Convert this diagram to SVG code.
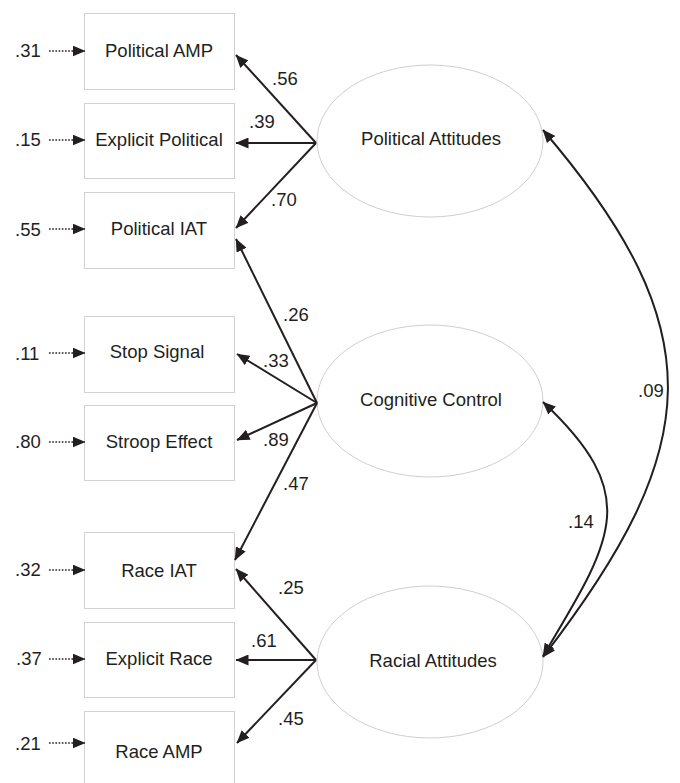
<svg xmlns="http://www.w3.org/2000/svg" width="680" height="783" viewBox="0 0 680 783">
<style>
text{font-family:"Liberation Sans",Arial,Helvetica,sans-serif;font-size:18.5px;fill:#231f20}
.box{fill:#fff;stroke:#d2d2d2;stroke-width:1}
.ell{fill:#fff;stroke:#cfcfcf;stroke-width:1}
.mid{text-anchor:middle}
.path{fill:none;stroke:#231f20;stroke-width:2;marker-end:url(#ah)}
.cov{fill:none;stroke:#231f20;stroke-width:2;marker-start:url(#ah);marker-end:url(#ah)}
.err{fill:none;stroke:#231f20;stroke-width:1.6;stroke-dasharray:1.6 1.6;marker-end:url(#ah)}
</style>
<defs>
<marker id="ah" markerUnits="userSpaceOnUse" markerWidth="13" markerHeight="11" viewBox="0 0 13 11" refX="12.5" refY="5.5" orient="auto-start-reverse">
<path d="M0,0 L13,5.5 L0,11 z" fill="#231f20"/>
</marker>
</defs>
<rect width="680" height="783" fill="#fff"/>

<g id="political-amp"><rect class="box" x="84.5" y="13.5" width="150" height="76"/><text class="mid" x="159" y="57">Political AMP</text><text x="15" y="57">.31</text></g>
<g id="explicit-political"><rect class="box" x="84.5" y="103.5" width="150" height="75"/><text class="mid" x="159" y="146">Explicit Political</text><text x="15" y="146">.15</text></g>
<g id="political-iat"><rect class="box" x="84.5" y="192.5" width="150" height="76"/><text class="mid" x="159" y="235">Political IAT</text><text x="15" y="236">.55</text></g>
<g id="stop-signal"><rect class="box" x="84.5" y="316.5" width="150" height="76"/><text class="mid" x="157" y="358">Stop Signal</text><text x="15" y="360">.11</text></g>
<g id="stroop-effect"><rect class="box" x="84.5" y="405.5" width="150" height="75"/><text class="mid" x="159" y="448">Stroop Effect</text><text x="15" y="448">.80</text></g>
<g id="race-iat"><rect class="box" x="84.5" y="532.5" width="150" height="76"/><text class="mid" x="159" y="577">Race IAT</text><text x="15" y="576">.32</text></g>
<g id="explicit-race"><rect class="box" x="84.5" y="622.5" width="150" height="75"/><text class="mid" x="159" y="665">Explicit Race</text><text x="16" y="665">.37</text></g>
<g id="race-amp"><rect class="box" x="84.5" y="711.5" width="150" height="76"/><text class="mid" x="159" y="758">Race AMP</text><text x="15" y="750">.21</text></g>

<g id="political-attitudes"><ellipse class="ell" cx="430" cy="141" rx="113" ry="76"/><text class="mid" x="431" y="145">Political Attitudes</text></g>
<g id="cognitive-control"><ellipse class="ell" cx="430" cy="401" rx="113" ry="76"/><text class="mid" x="431" y="406">Cognitive Control</text></g>
<g id="racial-attitudes"><ellipse class="ell" cx="430" cy="662" rx="113" ry="76"/><text class="mid" x="433" y="667">Racial Attitudes</text></g>

<g id="connectors">
<path class="err" d="M49,51 H85"/>
<path class="err" d="M49,140 H85"/>
<path class="err" d="M49,229 H85"/>
<path class="err" d="M49,353 H85"/>
<path class="err" d="M49,442 H85"/>
<path class="err" d="M49,570 H85"/>
<path class="err" d="M49,659 H85"/>
<path class="err" d="M49,743 H85"/>

<path class="path" d="M316,143 L236,55"/>
<path class="path" d="M316,143 L236,143"/>
<path class="path" d="M316,143 L236,228"/>

<path class="path" d="M317,403 L236,239"/>
<path class="path" d="M317,403 L237,354"/>
<path class="path" d="M317,403 L237,440"/>
<path class="path" d="M317,403 L235,560"/>

<path class="path" d="M316,660 L236,569"/>
<path class="path" d="M316,660 L236,660"/>
<path class="path" d="M316,660 L237,743"/>

<path class="cov" d="M543,130 C715,331 704,448 543,657"/>
<path class="cov" d="M543,402 C643,496 613,539 543,656"/>

<text x="272" y="85">.56</text>
<text x="249" y="128">.39</text>
<text x="271" y="206">.70</text>
<text x="283" y="321">.26</text>
<text x="263" y="367">.33</text>
<text x="263" y="446">.89</text>
<text x="283" y="490">.47</text>
<text x="278" y="594">.25</text>
<text x="251" y="647">.61</text>
<text x="278" y="725">.45</text>
<text x="638" y="397">.09</text>
<text x="568" y="528">.14</text>
</g>
</svg>
